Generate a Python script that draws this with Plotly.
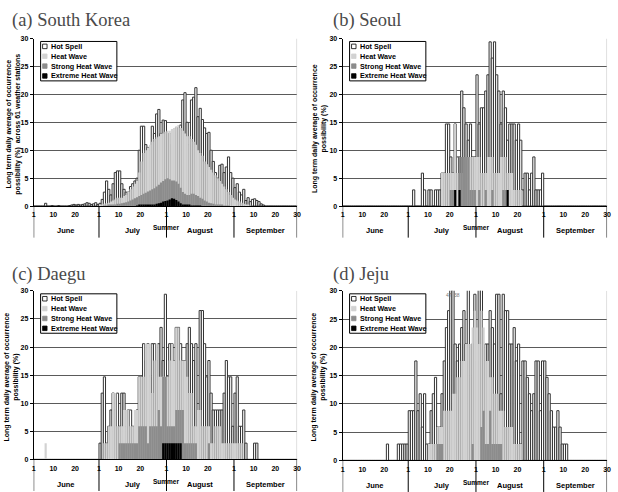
import plotly.graph_objects as go

W, H = 618, 492
MONTH_LEN = [30, 31, 31, 30]          # June, July, August, September
MONTHS = ["June", "July", "August", "September"]
MONTH_START = [0, 30, 61, 92, 121]    # day index of June 1, July 1, Aug 1, Sep 1, Sep 30
TICK_VALS = [0, 9, 19, 30, 39, 49, 61, 70, 80, 92, 101, 111, 121]
TICK_TEXT = ["1", "10", "20", "1", "10", "20", "1", "10", "20", "1", "10", "20", "30"]
SERIES_NAMES = ["Hot Spell", "Heat Wave", "Strong Heat Wave", "Extreme Heat Wave"]


def series(jun, jul, aug, sep):
    out = []
    for seg, n in zip((jun, jul, aug, sep), MONTH_LEN):
        out += list(seg) + [0.0] * (n - len(seg))
    return out


# ---------------- (a) South Korea ----------------
KOR_HOT = series(
    [0, 0, 0, 0, 0, 0.5, 0, 0, 0.1, 0, 0, 0.1, 0, 0, 0, 0, 0.1, 0.2, 0.3, 0.2, 0.3, 0.2, 0.3, 0.4, 0.6, 0.5, 0.3, 0.4, 0.6, 0.3],
    [0.5, 1.2, 2.5, 4.5, 3.0, 2.0, 4.0, 6.0, 6.3, 6.3, 4.0, 3.0, 2.5, 2.5, 3.5, 4.0, 4.5, 5.0, 10.0, 14.3, 14.3, 11.0, 10.5, 10.0, 14.3, 13.0, 16.5, 17.3, 13.0, 15.4, 15.3],
    [13.0, 13.0, 11.0, 13.3, 14.0, 14.0, 14.5, 19.0, 20.3, 15.0, 11.0, 19.0, 19.5, 21.2, 16.0, 17.5, 15.5, 14.0, 13.0, 13.2, 10.0, 8.0, 6.0, 5.0, 7.3, 7.5, 6.0, 7.0, 8.8, 6.0, 5.0],
    [3.3, 4.0, 2.5, 2.0, 3.0, 1.0, 1.5, 0.8, 1.2, 1.3, 1.0, 0.8, 0.4, 0.2],
)
KOR_HW = series(
    [],
    [0.2, 0.3, 0.4, 0.5, 0.6, 0.8, 1.0, 1.2, 1.5, 1.5, 1.5, 1.8, 2.0, 2.5, 3.0, 3.5, 4.0, 4.5, 6.0, 8.0, 9.5, 10.0, 10.5, 11.0, 11.5, 12.0, 12.3, 12.5, 13.0, 13.0, 13.3],
    [13.5, 13.5, 13.8, 14.0, 14.3, 14.5, 14.0, 13.5, 13.0, 12.5, 12.5, 12.0, 11.5, 11.0, 10.0, 9.5, 9.0, 8.0, 7.5, 7.0, 6.5, 6.0, 5.5, 5.0, 4.5, 4.0, 3.5, 3.0, 2.5, 2.0, 1.5],
    [1.2, 1.0, 0.8, 0.6, 0.4, 0.3, 0.2, 0.1],
)
KOR_STRONG = series(
    [],
    [0, 0, 0.1, 0.1, 0.2, 0.2, 0.3, 0.3, 0.4, 0.4, 0.5, 0.6, 0.7, 0.8, 1.0, 1.2, 1.4, 1.6, 1.8, 2.0, 2.2, 2.4, 2.6, 2.8, 3.0, 3.2, 3.5, 3.8, 4.2, 4.5, 4.8],
    [5.0, 4.8, 4.6, 4.6, 4.4, 4.0, 3.3, 2.5, 2.2, 2.0, 2.0, 2.2, 2.2, 2.0, 1.8, 1.5, 1.3, 1.0, 0.8, 0.6, 0.5, 0.4, 0.3, 0.3, 0.2, 0.2, 0.1, 0.1, 0.1],
    [],
)
KOR_EXT = series(
    [],
    [0, 0, 0, 0, 0, 0, 0, 0, 0, 0, 0, 0, 0, 0, 0, 0, 0, 0.1, 0.2, 0.3, 0.3, 0.2, 0.2, 0.2, 0.3, 0.3, 0.4, 0.5, 0.6, 0.8, 0.9],
    [1.0, 1.2, 1.4, 1.3, 1.1, 0.8, 0.5, 0.3, 0.2, 0.2, 0.2, 0.1, 0.1, 0.1, 0.1, 0.1],
    [],
)

# ---------------- (b) Seoul ----------------
SEO_HOT = series(
    [],
    [0, 0, 2.9, 0, 0, 0, 5.9, 2.9, 0, 2.9, 2.9, 0, 2.9, 2.9, 2.9, 5.9, 5.9, 14.7, 14.7, 8.8, 5.9, 14.7, 8.8, 8.8, 20.6, 17.6, 14.7, 11.8, 14.7, 8.8, 8.8],
    [23.5, 14.7, 17.6, 17.6, 20.6, 23.5, 29.4, 26.5, 29.4, 23.5, 20.6, 14.7, 20.6, 17.6, 11.8, 14.7, 14.7, 14.7, 11.8, 14.7, 11.8, 2.9, 5.9, 5.9, 2.9, 5.9, 8.8, 2.9, 2.9, 2.9, 5.9],
    [],
)
SEO_HW = series(
    [],
    [0, 0, 0, 0, 0, 0, 0, 0, 0, 0, 0, 0, 0, 0, 0, 5.9, 5.9, 5.9, 5.9, 5.9, 5.9, 14.7, 5.9, 5.9, 5.9, 5.9, 8.8, 8.8, 8.8, 8.8, 8.8],
    [8.8, 8.8, 5.9, 5.9, 5.9, 8.8, 8.8, 8.8, 5.9, 5.9, 5.9, 8.8, 8.8, 8.8, 5.9, 5.9, 5.9, 2.9, 2.9, 2.9, 2.9],
    [],
)
SEO_STRONG = series(
    [],
    [0, 0, 0, 0, 0, 0, 0, 0, 0, 0, 0, 0, 0, 0, 0, 0, 0, 0, 0, 2.9, 2.9, 0, 0, 8.8, 8.8, 8.8, 8.8, 8.8, 2.9, 2.9, 2.9],
    [0, 2.9, 0, 0, 2.9, 0, 0, 2.9, 0, 0, 0, 0, 2.9, 2.9],
    [],
)
SEO_EXT = series(
    [],
    [0, 0, 0, 0, 0, 0, 0, 0, 0, 0, 0, 0, 0, 0, 0, 0, 0, 0, 0, 0, 0, 2.9, 0, 2.9],
    [0, 0, 0, 0, 0, 0, 0, 0, 0, 0, 0, 0, 0, 0, 2.9],
    [],
)

# ---------------- (c) Daegu ----------------
DAE_HOT = series(
    [],
    [2.9, 11.8, 14.7, 2.9, 5.9, 8.8, 11.8, 8.8, 11.8, 5.9, 11.8, 11.8, 5.9, 8.8, 8.8, 5.9, 5.9, 8.8, 14.7, 14.7, 20.6, 17.6, 20.6, 14.7, 20.6, 20.6, 17.6, 20.6, 23.5, 17.6, 29.4],
    [14.7, 20.6, 20.6, 17.6, 23.5, 23.5, 20.6, 17.6, 17.6, 20.6, 23.5, 20.6, 17.6, 20.6, 5.9, 26.5, 26.5, 20.6, 14.7, 17.6, 11.8, 8.8, 8.8, 8.8, 8.8, 8.8, 11.8, 17.6, 14.7, 14.7, 5.9],
    [11.8, 14.7, 5.9, 5.9, 8.8, 2.9, 0, 0, 0, 2.9, 2.9],
)
DAE_HW = series(
    [0, 0, 0, 0, 0, 2.9],
    [0, 0, 2.9, 2.9, 5.9, 5.9, 11.8, 11.8, 5.9, 5.9, 5.9, 8.8, 8.8, 8.8, 5.9, 5.9, 8.8, 8.8, 14.7, 14.7, 14.7, 20.6, 20.6, 20.6, 11.8, 17.6, 20.6, 14.7, 14.7, 14.7, 14.7],
    [14.7, 17.6, 20.6, 17.6, 23.5, 23.5, 17.6, 17.6, 17.6, 14.7, 11.8, 11.8, 5.9, 5.9, 8.8, 8.8, 5.9, 5.9, 5.9, 5.9, 2.9, 2.9, 5.9, 5.9, 5.9, 2.9, 2.9, 2.9, 2.9, 2.9, 2.9],
    [2.9, 2.9, 2.9, 2.9],
)
DAE_STRONG = series(
    [],
    [0, 0, 0, 0, 0, 0, 0, 0, 0, 2.9, 2.9, 2.9, 2.9, 2.9, 2.9, 2.9, 2.9, 2.9, 5.9, 5.9, 5.9, 5.9, 2.9, 5.9, 5.9, 5.9, 5.9, 8.8, 5.9, 14.7, 14.7],
    [5.9, 5.9, 5.9, 5.9, 8.8, 8.8, 8.8, 8.8, 2.9, 2.9, 2.9, 2.9, 2.9, 2.9, 0, 0, 0, 0, 0, 2.9],
    [],
)
DAE_EXT = series(
    [],
    [0, 0, 0, 0, 0, 0, 0, 0, 0, 0, 0, 0, 0, 0, 0, 0, 0, 0, 0, 0, 0, 0, 0, 0, 0, 0, 0, 0, 0, 2.9, 2.9],
    [2.9, 2.9, 2.9, 2.9, 2.9, 2.9, 2.9],
    [],
)

# ---------------- (d) Jeju ----------------
JEJ_HOT = series(
    [0, 0, 0, 0, 0, 0, 0, 0, 0, 0, 0, 0, 0, 0, 0, 0, 0, 0, 0, 0, 2.9, 0, 0, 0, 0, 2.9, 2.9, 2.9, 2.9, 2.9],
    [8.8, 8.8, 8.8, 17.6, 8.8, 11.8, 5.9, 11.8, 2.9, 2.9, 8.8, 11.8, 14.7, 5.9, 5.9, 11.8, 17.6, 23.5, 26.5, 47.1, 38.2, 20.6, 17.6, 20.6, 23.5, 26.5, 20.6, 32.4, 14.7, 20.6, 29.4],
    [17.6, 32.4, 32.4, 17.6, 20.6, 20.6, 26.5, 23.5, 20.6, 29.4, 29.4, 11.8, 29.4, 26.5, 26.5, 20.6, 20.6, 23.5, 17.6, 20.6, 2.9, 17.6, 17.6, 14.7, 11.8, 8.8, 11.8, 17.6, 17.6, 8.8, 17.6],
    [17.6, 14.7, 11.8, 8.8, 5.9, 5.9, 8.8, 5.9, 2.9, 2.9, 2.9],
)
JEJ_HW = series(
    [],
    [0, 0, 0, 0, 0, 0, 0, 0, 0, 2.9, 2.9, 2.9, 2.9, 5.9, 5.9, 5.9, 8.8, 8.8, 8.8, 8.8, 11.8, 11.8, 14.7, 14.7, 17.6, 17.6, 20.6, 20.6, 20.6, 23.5, 26.5],
    [23.5, 20.6, 26.5, 23.5, 17.6, 17.6, 14.7, 14.7, 11.8, 11.8, 8.8, 8.8, 8.8, 5.9, 5.9, 5.9, 5.9, 2.9, 2.9, 2.9, 2.9],
    [],
)
JEJ_STRONG = series(
    [],
    [0, 0, 0, 0, 0, 0, 0, 0, 0, 0, 0, 0, 0, 2.9, 2.9, 2.9, 0, 0, 0, 0, 0, 0, 0, 0, 0, 0, 0, 0, 0, 2.9, 0],
    [0, 0, 5.9, 8.8, 2.9, 2.9, 8.8, 2.9, 2.9, 2.9, 2.9, 2.9],
    [],
)
JEJ_EXT = series([], [], [], [])

JEJ_OFFSCALE_LABELS = ["47", "38"]

# ---------------- layout config ----------------
PANELS = [
    dict(title="(a) South Korea", data=(KOR_HOT, KOR_HW, KOR_STRONG, KOR_EXT),
         box=(32, 35, 298, 205), title_xy=(8, 17), ytitle_xy=(11.5, 122),
         ytitle="Long term daily average of occurrence<br>possibility (%)  across 61 weather stations"),
    dict(title="(b) Seoul", data=(SEO_HOT, SEO_HW, SEO_STRONG, SEO_EXT),
         box=(344, 35, 611, 205), title_xy=(332, 17), ytitle_xy=(320, 126),
         ytitle="Long term daily average of occurrence<br>possibility (%)"),
    dict(title="(c) Daegu", data=(DAE_HOT, DAE_HW, DAE_STRONG, DAE_EXT),
         box=(32, 291, 298, 462), title_xy=(8, 274), ytitle_xy=(10, 378),
         ytitle="Long term daily average of occurrence<br>possibility (%)"),
    dict(title="(d) Jeju", data=(JEJ_HOT, JEJ_HW, JEJ_STRONG, JEJ_EXT),
         box=(344, 291, 611, 463), title_xy=(332, 274), ytitle_xy=(320, 378),
         ytitle="Long term daily average of occurrence<br>possibility (%)"),
]

FILLS = ["#ffffff", "#d2d2d2", "#8c8c8c", "#000000"]
FONT = "Liberation Sans, Arial, sans-serif"

N = sum(MONTH_LEN)
X_CENTERS = [i + 0.5 for i in range(N)]


def px(x):
    return x / W


def py(y):
    return 1 - y / H


fig = go.Figure()
shapes = []
annotations = []

for k, p in enumerate(PANELS):
    idx = "" if k == 0 else str(k + 1)
    xa, ya = "x" + idx, "y" + idx
    L, T, R, B = p["box"]

    for s, (vals, name, fill) in enumerate(zip(p["data"], SERIES_NAMES, FILLS)):
        if s == 0:
            marker = dict(color=fill, line=dict(color="#333333", width=1.0))
            width = 1.0
        else:
            marker = dict(color=fill, line=dict(width=0))
            width = 1.0
        fig.add_trace(go.Bar(x=X_CENTERS, y=vals, name=name, width=width, marker=marker,
                             xaxis=xa, yaxis=ya, showlegend=False, hoverinfo="skip"))

    axis_common = dict(showline=True, linecolor="#000000", linewidth=1, mirror=False)
    fig.layout["xaxis" + idx] = dict(
        domain=[px(L), px(R)], range=[0, N - 1], anchor=ya,
        tickvals=TICK_VALS, ticktext=TICK_TEXT, ticks="", showgrid=False, zeroline=False,
        tickfont=dict(family=FONT, size=7, color="#000", weight="bold"),
        ticklabelstandoff=2, **axis_common)
    fig.layout["yaxis" + idx] = dict(
        domain=[py(B), py(T)], range=[0, 30], anchor=xa,
        tickvals=[0, 5, 10, 15, 20, 25, 30], ticks="outside", ticklen=3, tickcolor="#000",
        showgrid=True, gridcolor="#5a5a5a", gridwidth=1, zeroline=False,
        tickfont=dict(family=FONT, size=7, color="#000", weight="bold"), **axis_common)

    # right border of plot
    shapes.append(dict(type="line", xref=xa, yref=ya, x0=N - 1, x1=N - 1, y0=0, y1=30,
                       line=dict(color="#bdbdbd", width=1)))
    # month separators below axis
    for m in MONTH_START:
        shapes.append(dict(type="line", xref=xa, yref="paper", x0=m, x1=m,
                           y0=py(B), y1=py(B + 32), line=dict(color="#000", width=1)))
    for i, name in enumerate(MONTHS):
        annotations.append(dict(text="<b>%s</b>" % name, xref=xa, yref="paper",
                                x=(MONTH_START[i] + MONTH_START[i + 1]) / 2, y=py(B + 25),
                                xanchor="center", yanchor="middle",
                                showarrow=False, font=dict(family=FONT, size=7.5, color="#000")))
    annotations.append(dict(text="<b>Summer</b>", xref=xa, yref="paper", x=MONTH_START[2],
                            y=py(B + 22), xanchor="center", yanchor="middle", showarrow=False,
                            font=dict(family=FONT, size=6.5, color="#000")))

    # panel title
    tx, ty = p["title_xy"]
    annotations.append(dict(text=p["title"], xref="paper", yref="paper", x=px(tx), y=py(ty),
                            xanchor="left", yanchor="middle", showarrow=False,
                            font=dict(family="Liberation Serif, serif", size=18.5, color="#4a4a4a")))
    # y axis title
    yx, yy = p["ytitle_xy"]
    annotations.append(dict(text="<b>%s</b>" % p["ytitle"], xref="paper", yref="paper",
                            x=px(yx), y=py(yy), xanchor="center", yanchor="middle",
                            textangle=-90, showarrow=False,
                            font=dict(family=FONT, size=7, color="#000")))

    # legend box
    bx0, by0, bx1, by1 = L + 7, T + 3, L + 84, T + 43
    shapes.append(dict(type="rect", xref="paper", yref="paper", x0=px(bx0), x1=px(bx1),
                       y0=py(by1), y1=py(by0), fillcolor="#fff",
                       line=dict(color="#000", width=1)))
    for s, (name, fill) in enumerate(zip(SERIES_NAMES, FILLS)):
        cy = T + 8 + 10 * s
        shapes.append(dict(type="rect", xref="paper", yref="paper",
                           x0=px(L + 9), x1=px(L + 13.5), y0=py(cy + 2.3), y1=py(cy - 2.3),
                           fillcolor=fill, line=dict(color="#000" if s == 0 else fill, width=0.8)))
        annotations.append(dict(text="<b>%s</b>" % name, xref="paper", yref="paper",
                                x=px(L + 15), y=py(cy), xanchor="left", yanchor="middle",
                                showarrow=False, font=dict(family=FONT, size=7.2, color="#000")))

# off-scale labels in Jeju
for lbl, xv in zip(JEJ_OFFSCALE_LABELS, [48.5, 52.5]):
    annotations.append(dict(text=lbl, xref="x4", yref="y4", x=xv, y=29.2, showarrow=False,
                            font=dict(family=FONT, size=5, color="#777")))

fig.update_layout(width=W, height=H, margin=dict(l=0, r=0, t=0, b=0),
                  paper_bgcolor="#fff", plot_bgcolor="#fff", barmode="overlay",
                  shapes=shapes, annotations=annotations, showlegend=False)

fig.write_html("out.html")
